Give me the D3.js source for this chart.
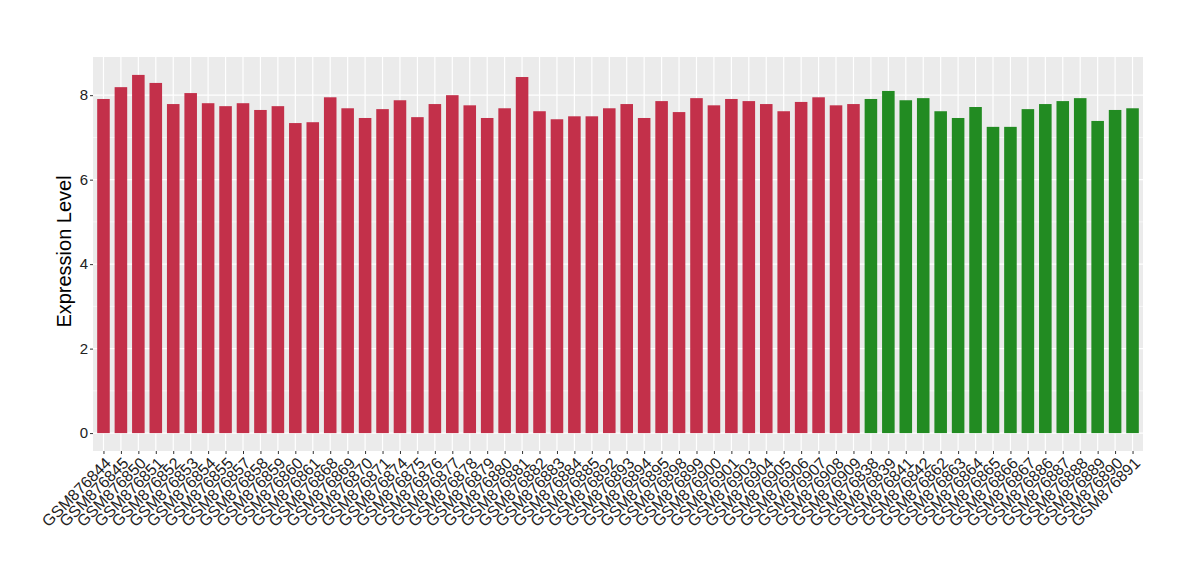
<!DOCTYPE html>
<html>
<head>
<meta charset="utf-8">
<script src="https://cdn.jsdelivr.net/npm/d3@7"></script>
<style>
  body { margin: 0; background: #fff; }
  text { font-family: "Liberation Sans", Arial, sans-serif; }
</style>
</head>
<body>
<script>
// samples, left group first
var samples = ["GSM876844","GSM876845","GSM876850","GSM876851","GSM876852","GSM876853","GSM876854","GSM876855","GSM876857","GSM876858",
  "GSM876859","GSM876860","GSM876861","GSM876868","GSM876869","GSM876870","GSM876871","GSM876874","GSM876875","GSM876876",
  "GSM876877","GSM876878","GSM876879","GSM876880","GSM876881","GSM876882","GSM876883","GSM876884","GSM876885","GSM876892",
  "GSM876893","GSM876894","GSM876895","GSM876898","GSM876899","GSM876900","GSM876901","GSM876903","GSM876904","GSM876905",
  "GSM876906","GSM876907","GSM876908","GSM876909",
  "GSM876838","GSM876839","GSM876841","GSM876842","GSM876862","GSM876863","GSM876864","GSM876865","GSM876866","GSM876867",
  "GSM876886","GSM876887","GSM876888","GSM876889","GSM876890","GSM876891"];

var values = [7.91,8.19,8.48,8.29,7.79,8.05,7.81,7.74,7.81,7.65,
  7.74,7.34,7.36,7.95,7.69,7.46,7.67,7.88,7.48,7.79,
  8.00,7.76,7.46,7.69,8.43,7.62,7.43,7.50,7.50,7.69,
  7.79,7.46,7.86,7.60,7.93,7.76,7.91,7.86,7.79,7.62,
  7.84,7.95,7.76,7.79,
  7.91,8.10,7.88,7.93,7.62,7.46,7.72,7.25,7.25,7.67,
  7.79,7.86,7.93,7.39,7.65,7.69];

var groups = samples.map(function(d, i) { return i < 44 ? "A" : "B"; });
var groupColors = {A: "#c3304a", B: "#228b22"};
var yTicks = [0, 2, 4, 6, 8];

var width = 1200, height = 580,
    margin = {top: 57, right: 57, bottom: 129, left: 93};
var pw = width - margin.left - margin.right,
    ph = height - margin.top - margin.bottom;

var svg = d3.select("body").append("svg")
    .attr("width", width)
    .attr("height", height);

var g = svg.append("g")
    .attr("transform", "translate(" + margin.left + "," + margin.top + ")");

// ggplot-like expansion
var n = samples.length, unit = pw / (n - 1 + 1.2);
var x = d3.scalePoint()
    .domain(samples)
    .range([0.6 * unit, pw - 0.6 * unit]);

var ymax = d3.max(values), pad = ymax * 0.05;
var y = d3.scaleLinear()
    .domain([-pad, ymax + pad])
    .range([ph, 0]);

g.append("rect")
    .attr("width", pw)
    .attr("height", ph)
    .attr("fill", "#ebebeb");

// minor grid
g.selectAll(".minor")
    .data([1, 3, 5, 7])
  .enter().append("line")
    .attr("x1", 0).attr("x2", pw)
    .attr("y1", function(d) { return y(d); })
    .attr("y2", function(d) { return y(d); })
    .attr("stroke", "#fff")
    .attr("stroke-width", 0.6);

g.selectAll(".hmajor")
    .data(yTicks)
  .enter().append("line")
    .attr("x1", 0).attr("x2", pw)
    .attr("y1", function(d) { return y(d); })
    .attr("y2", function(d) { return y(d); })
    .attr("stroke", "#fff")
    .attr("stroke-width", 1.2);

g.selectAll(".vmajor")
    .data(samples)
  .enter().append("line")
    .attr("x1", function(d) { return x(d); })
    .attr("x2", function(d) { return x(d); })
    .attr("y1", 0).attr("y2", ph)
    .attr("stroke", "#fff")
    .attr("stroke-width", 1.2);

var bw = unit * 0.72;
g.selectAll(".bar")
    .data(values)
  .enter().append("rect")
    .attr("x", function(d, i) { return x(samples[i]) - bw / 2; })
    .attr("width", bw)
    .attr("y", function(d) { return y(d); })
    .attr("height", function(d) { return y(0) - y(d); })
    .attr("fill", function(d, i) { return groupColors[groups[i]]; });

// y axis
var yAxis = g.append("g")
    .call(d3.axisLeft(y).tickValues(yTicks).tickSize(3).tickPadding(2));
yAxis.select(".domain").remove();
yAxis.selectAll(".tick line").attr("stroke", "#333");
yAxis.selectAll(".tick text")
    .attr("fill", "#222")
    .style("font-size", "15px")
    .style("font-family", "Liberation Sans, Arial, sans-serif");

// x axis
var xAxis = g.append("g")
    .attr("transform", "translate(0," + ph + ")")
    .call(d3.axisBottom(x).tickSize(3).tickPadding(2));
xAxis.select(".domain").remove();
xAxis.selectAll(".tick line").attr("stroke", "#333");
xAxis.selectAll(".tick text")
    .attr("fill", "#222")
    .style("font-size", "16px")
    .style("font-family", "Liberation Sans, Arial, sans-serif")
    .attr("text-anchor", "end")
    .attr("y", 0)
    .attr("dy", "0.72em")
    .attr("transform", "translate(0,5) rotate(-45)");

svg.append("text")
    .attr("transform", "translate(71," + (margin.top + y(4.3)) + ") rotate(-90)")
    .attr("text-anchor", "middle")
    .style("font-size", "20px")
    .attr("fill", "#000")
    .text("Expression Level");
</script>
</body>
</html>
